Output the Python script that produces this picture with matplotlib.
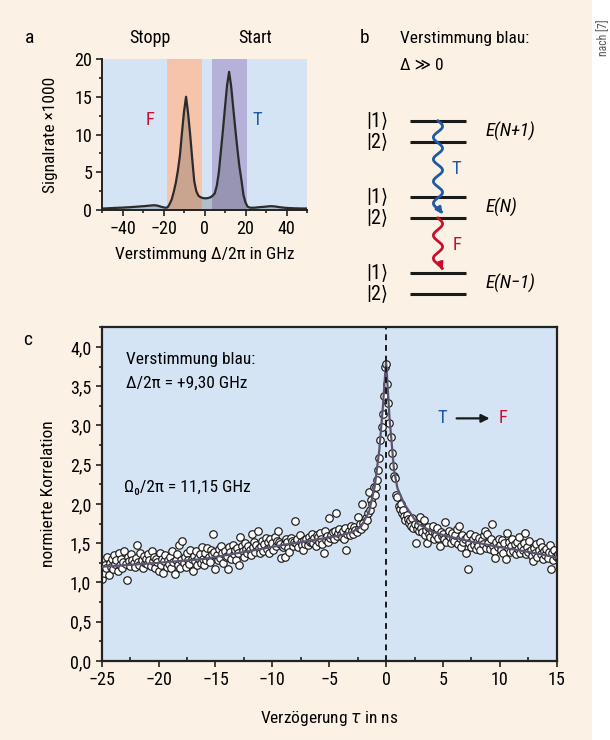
import numpy as np
import matplotlib
matplotlib.use("Agg")
import matplotlib.pyplot as plt
from matplotlib import font_manager
from matplotlib.patches import Rectangle
from matplotlib.ticker import MultipleLocator

# prefer a condensed face, like the print original
_names = {f.name for f in font_manager.fontManager.ttflist}
_base = next((n for n in ["Liberation Sans Narrow", "Roboto Condensed", "Open Sans Condensed",
                          "Noto Sans Display", "Roboto"] if n in _names), "DejaVu Sans")
plt.rcParams["font.family"] = [_base, "DejaVu Sans"]
plt.rcParams["font.stretch"] = "condensed"
plt.rcParams["axes.unicode_minus"] = True

PAGE = "#fbf1e5"
PANEL_BLUE = "#d4e4f5"
BAND_F = "#f6c4aa"
BAND_T = "#b5b1d9"
BLUE = "#1f5aa6"
RED = "#c8102e"
FIT = "#5b5570"

# --- panel a: signal rate vs detuning (1 GHz grid) ---
DETUNING_GHZ = np.arange(-50, 51)
SIGNAL = [
    0.20, 0.20, 0.22, 0.22, 0.25, 0.25, 0.28, 0.28, 0.30, 0.30,
    0.32, 0.33, 0.35, 0.36, 0.38, 0.40, 0.42, 0.44, 0.46, 0.48,
    0.50, 0.52, 0.55, 0.57, 0.60, 0.62, 0.62, 0.58, 0.50, 0.42,
    0.35, 0.30, 0.35, 0.80, 1.40, 2.40, 3.60, 5.20, 7.20, 10.20,
    13.00, 15.00, 12.80, 10.00, 6.80, 3.80, 2.50, 1.90, 1.70, 1.60,
    1.55, 1.55, 1.60, 1.70, 1.90, 2.20, 3.20, 5.00, 7.80, 10.60,
    13.60, 16.50, 18.30, 16.40, 13.60, 10.80, 8.20, 5.80, 4.00, 2.00,
    1.00, 0.45, 0.32, 0.30, 0.30, 0.32, 0.35, 0.38, 0.40, 0.42,
    0.45, 0.48, 0.50, 0.50, 0.48, 0.45, 0.40, 0.36, 0.33, 0.30,
    0.28, 0.26, 0.25, 0.24, 0.22, 0.22, 0.21, 0.20, 0.20, 0.20, 0.20,
]
F_BAND = (-18.5, -1.0)
T_BAND = (3.5, 20.5)
A_XTICKS = [-40, -20, 0, 20, 40]
A_XTICK_LABELS = ["\u221240", "\u221220", "0", "20", "40"]
A_YTICKS = [0, 5, 10, 15, 20]

# --- panel b: level scheme (manifold energies, arbitrary units) ---
MANIFOLDS = [2.0, 1.0, 0.0]
MANIFOLD_LABELS = ["E(N+1)", "E(N)", "E(N\u22121)"]
SPLIT = 0.28

# --- panel c: normalized correlation vs delay (0.1 ns grid from -25.3 ns) ---
TAU_START = -25.3
TAU_STEP = 0.1
CORR = [
    1.08, 1.30, 1.15,
    1.05, 1.28, 1.12, 1.22, 1.18, 1.32, 1.10, 1.25, 1.20, 1.30,
    1.17, 1.35, 1.24, 1.28, 1.15, 1.38, 1.22, 1.30, 1.19, 1.26,
    1.40, 1.23, 1.03, 1.33, 1.27, 1.21, 1.36, 1.29, 1.25, 1.20,
    1.31, 1.48, 1.26, 1.22, 1.38, 1.28, 1.19, 1.34, 1.25, 1.30,
    1.24, 1.36, 1.29, 1.21, 1.40, 1.27, 1.33, 1.18, 1.30, 1.26,
    1.15, 1.38, 1.22, 1.30, 1.12, 1.27, 1.35, 1.20, 1.29, 1.24,
    1.32, 1.18, 1.40, 1.26, 1.11, 1.29, 1.36, 1.22, 1.48, 1.19,
    1.28, 1.53, 1.25, 1.33, 1.20, 1.38, 1.29, 1.24, 1.42, 1.30,
    1.15, 1.34, 1.27, 1.40, 1.22, 1.31, 1.36, 1.25, 1.45, 1.30,
    1.22, 1.38, 1.29, 1.44, 1.33, 1.26, 1.41, 1.36, 1.62, 1.39,
    1.17, 1.35, 1.28, 1.43, 1.31, 1.47, 1.38, 1.25, 1.40, 1.33,
    1.34, 1.17, 1.45, 1.39, 1.30, 1.48, 1.36, 1.42, 1.29, 1.44,
    1.37, 1.22, 1.58, 1.46, 1.40, 1.33, 1.50, 1.43, 1.38, 1.47,
    1.42, 1.35, 1.62, 1.45, 1.51, 1.39, 1.48, 1.66, 1.44, 1.37,
    1.46, 1.53, 1.40, 1.49, 1.57, 1.43, 1.51, 1.38, 1.55, 1.47,
    1.50, 1.42, 1.58, 1.47, 1.53, 1.66, 1.52, 1.49, 1.31, 1.45,
    1.48, 1.33, 1.55, 1.51, 1.44, 1.39, 1.57, 1.53, 1.47, 1.52,
    1.78, 1.50, 1.56, 1.45, 1.60, 1.52, 1.48, 1.41, 1.54, 1.49,
    1.55, 1.48, 1.58, 1.52, 1.53, 1.62, 1.50, 1.57, 1.46, 1.60,
    1.58, 1.52, 1.63, 1.55, 1.49, 1.38, 1.66, 1.54, 1.59, 1.51,
    1.82, 1.57, 1.60, 1.64, 1.55, 1.66, 1.89, 1.59, 1.63, 1.68,
    1.62, 1.58, 1.66, 1.55, 1.70, 1.41, 1.62, 1.65, 1.60, 1.72,
    1.66, 1.62, 1.71, 1.67, 1.64, 1.84, 1.70, 1.75, 1.68, 2.00,
    1.76, 1.72, 1.82, 1.79, 1.88, 2.15, 1.92, 2.05, 2.00, 2.22,
    2.12, 2.22, 2.30, 2.43, 2.58, 2.82, 2.98, 3.15, 3.37, 3.74,
    3.78, 3.53, 3.28, 3.03, 2.85, 2.65, 2.48, 2.35, 2.33, 2.12,
    2.09, 1.97, 1.93, 2.00, 1.88, 1.92, 1.85, 1.80, 1.86, 1.81,
    1.76, 1.79, 1.72, 1.82, 1.70, 1.75, 1.50, 1.68, 1.73, 1.66,
    1.84, 1.70, 1.64, 1.80, 1.60, 1.67, 1.50, 1.71, 1.62, 1.58,
    1.66, 1.72, 1.55, 1.63, 1.60, 1.69, 1.57, 1.47, 1.64, 1.59,
    1.62, 1.55, 1.77, 1.52, 1.60, 1.66, 1.58, 1.50, 1.63, 1.56,
    1.53, 1.61, 1.68, 1.49, 1.72, 1.57, 1.45, 1.60, 1.52, 1.56,
    1.37, 1.58, 1.17, 1.50, 1.62, 1.45, 1.55, 1.48, 1.59, 1.43,
    1.52, 1.46, 1.57, 1.41, 1.54, 1.49, 1.60, 1.66, 1.44, 1.62,
    1.50, 1.43, 1.56, 1.75, 1.47, 1.40, 1.31, 1.52, 1.45, 1.55,
    1.48, 1.41, 1.54, 1.37, 1.50, 1.30, 1.63, 1.44, 1.52, 1.39,
    1.46, 1.55, 1.40, 1.49, 1.36, 1.52, 1.43, 1.58, 1.38, 1.47,
    1.41, 1.50, 1.63, 1.36, 1.45, 1.39, 1.53, 1.42, 1.34, 1.27,
    1.44, 1.38, 1.49, 1.33, 1.42, 1.52, 1.36, 1.45, 1.30, 1.40,
    1.35, 1.43, 1.31, 1.39, 1.48, 1.17, 1.37, 1.29, 1.41, 1.34,
    1.33, 1.36, 1.30,
]
# fitted curve
FIT_TAU = [-25, -20, -16, -12, -9, -6, -4, -3, -2.2, -1.5, -1.0, -0.6, -0.3, 0.0,
           0.3, 0.7, 1.0, 1.6, 2.75, 4, 5.1, 7.5, 10, 12.5, 15]
FIT_CORR = [1.20, 1.25, 1.30, 1.40, 1.48, 1.55, 1.60, 1.64, 1.71, 1.90, 2.22, 2.68, 3.20, 3.82,
            3.10, 2.43, 2.20, 2.00, 1.75, 1.65, 1.60, 1.52, 1.45, 1.39, 1.32]
C_XTICKS = [-25, -20, -15, -10, -5, 0, 5, 10, 15]
C_XTICK_LABELS = ["\u221225", "\u221220", "\u221215", "\u221210", "\u22125", "0", "5", "10", "15"]
C_YTICKS = [0.0, 0.5, 1.0, 1.5, 2.0, 2.5, 3.0, 3.5, 4.0]
C_YTICK_LABELS = ["0,0", "0,5", "1,0", "1,5", "2,0", "2,5", "3,0", "3,5", "4,0"]

W, H = 610, 740
FS = 12.5        # body text size
FS_TICK = 13
FS_LETTER = 14


def px(x, y):
    """Pixel position (from top-left) -> figure fraction."""
    return x / W, 1 - y / H


fig = plt.figure(figsize=(6.1, 7.4), dpi=100, facecolor=PAGE)
fig.patches.append(Rectangle((592 / W, 0), 1 - 592 / W, 1, transform=fig.transFigure,
                             facecolor="white", edgecolor="none", zorder=0))
fig.text(*px(604, 38), "nach [7]", rotation=90, ha="center", va="center",
         fontsize=8.5, color="#555555")

# ---------------- panel a ----------------
ax_a = fig.add_axes([102 / W, 1 - 210 / H, 205 / W, 151 / H])
ax_a.set_facecolor(PANEL_BLUE)
ax_a.axvspan(*F_BAND, color=BAND_F, lw=0, zorder=0.5)
ax_a.axvspan(*T_BAND, color=BAND_T, lw=0, zorder=0.5)
ax_a.fill_between(DETUNING_GHZ, 0, SIGNAL, color="#333333", alpha=0.22, lw=0, zorder=1)
ax_a.plot(DETUNING_GHZ, SIGNAL, color="#2b2b2b", lw=1.6, zorder=2)
ax_a.set_xlim(-50, 50)
ax_a.set_ylim(0, 20)
ax_a.set_xticks(A_XTICKS)
ax_a.set_xticklabels(A_XTICK_LABELS)
ax_a.set_yticks(A_YTICKS)
ax_a.xaxis.set_minor_locator(MultipleLocator(10))
ax_a.yaxis.set_minor_locator(MultipleLocator(2.5))
ax_a.tick_params(which="both", direction="out", labelsize=FS_TICK, width=1.2, color="#222222")
ax_a.tick_params(which="major", length=4, pad=3)
ax_a.tick_params(which="minor", length=2.5)
for side in ("top", "right"):
    ax_a.spines[side].set_visible(False)
for side in ("left", "bottom"):
    ax_a.spines[side].set_linewidth(1.4)
    ax_a.spines[side].set_color("#222222")
ax_a.set_ylabel("Signalrate \u00d71000", fontsize=FS, labelpad=12)
ax_a.set_xlabel("Verstimmung \u0394/2\u03c0 in GHz", fontsize=FS, labelpad=7)
ax_a.text(-26.5, 11.9, "F", color=RED, fontsize=FS + 1, ha="center", va="center")
ax_a.text(26.0, 11.9, "T", color=BLUE, fontsize=FS + 1, ha="center", va="center")
fig.text(*px(30, 38), "a", fontsize=FS_LETTER, ha="center", va="center")
fig.text(*px(150, 38), "Stopp", fontsize=FS + 0.5, ha="center", va="center")
fig.text(*px(255, 38), "Start", fontsize=FS + 0.5, ha="center", va="center")

# ---------------- panel b ----------------
fig.text(*px(365, 38), "b", fontsize=FS_LETTER, ha="center", va="center")
fig.text(*px(400, 38), "Verstimmung blau:", fontsize=FS, ha="left", va="center")
fig.text(*px(400, 65), "\u0394 \u226b 0", fontsize=FS, ha="left", va="center")

ax_b = fig.add_axes([360 / W, 1 - 310 / H, 230 / W, 210 / H])
ax_b.set_xlim(0, 1)
ax_b.set_ylim(-0.349, 2.414)
ax_b.axis("off")
for e, lab in zip(MANIFOLDS, MANIFOLD_LABELS):
    for dy, ket in ((SPLIT / 2, "|1\u27e9"), (-SPLIT / 2, "|2\u27e9")):
        ax_b.plot([0.217, 0.461], [e + dy, e + dy], color="#1a1a1a", lw=2.2,
                  solid_capstyle="butt")
        ax_b.text(0.075, e + dy, ket, fontsize=FS + 2, ha="center", va="center")
    ax_b.text(0.545, e, lab, fontsize=FS + 1, style="italic", ha="left", va="center")


def wavy(ax, x0, y_top, y_bot, periods, color):
    y = np.linspace(y_top, y_bot, 300)
    x = x0 + 0.02 * np.sin(2 * np.pi * periods * (y_top - y) / (y_top - y_bot))
    ax.plot(x[:-8], y[:-8], color=color, lw=2.0)
    ax.annotate("", xy=(x[-1], y[-1]), xytext=(x[-14], y[-14]),
                arrowprops=dict(arrowstyle="-|>", color=color, lw=2.0,
                                mutation_scale=9, shrinkA=0, shrinkB=0))


top_n1 = MANIFOLDS[0] + SPLIT / 2
lo_n = MANIFOLDS[1] - SPLIT / 2
hi_nm1 = MANIFOLDS[2] + SPLIT / 2
wavy(ax_b, 0.339, top_n1, lo_n + 0.05, 4.25, BLUE)
wavy(ax_b, 0.339, lo_n, hi_nm1 + 0.04, 2.25, RED)
ax_b.text(0.42, 1.5, "T", color=BLUE, fontsize=FS + 1, ha="center", va="center")
ax_b.text(0.42, 0.5, "F", color=RED, fontsize=FS + 1, ha="center", va="center")

# ---------------- panel c ----------------
tau = TAU_START + TAU_STEP * np.arange(len(CORR))
ax_c = fig.add_axes([101.7 / W, 1 - 661 / H, 455 / W, 333.7 / H])
ax_c.set_facecolor(PANEL_BLUE)
ax_c.plot(tau, CORR, "o", ms=5.4, mfc="white", mec="#1a1a1a", mew=0.85, zorder=2)
ax_c.plot(FIT_TAU, FIT_CORR, color=FIT, lw=1.6, zorder=3)
ax_c.axvline(0, color="#1a1a1a", lw=1.4, ls=(0, (3, 2.5)), zorder=3)
ax_c.set_xlim(-25, 15)
ax_c.set_ylim(0, 4.25)
ax_c.set_xticks(C_XTICKS)
ax_c.set_xticklabels(C_XTICK_LABELS)
ax_c.set_yticks(C_YTICKS)
ax_c.set_yticklabels(C_YTICK_LABELS)
ax_c.xaxis.set_minor_locator(MultipleLocator(2.5))
ax_c.yaxis.set_minor_locator(MultipleLocator(0.25))
ax_c.tick_params(which="both", labelsize=FS_TICK, width=1.2, color="#222222")
ax_c.tick_params(which="major", direction="out", length=4.5, pad=3)
ax_c.tick_params(axis="x", which="minor", direction="in", length=3)
ax_c.tick_params(axis="y", which="minor", direction="out", length=2.5)
for sp in ax_c.spines.values():
    sp.set_linewidth(1.6)
    sp.set_color("#222222")
ax_c.set_ylabel("normierte Korrelation", fontsize=FS, labelpad=10)
ax_c.set_xlabel("Verz\u00f6gerung $\\tau$ in ns", fontsize=FS, labelpad=14)
ax_c.text(-22.9, 3.84, "Verstimmung blau:", fontsize=FS, ha="left", va="center")
ax_c.text(-22.9, 3.54, "\u0394/2\u03c0 = +9,30 GHz", fontsize=FS, ha="left", va="center")
ax_c.text(-23.0, 2.21, "\u03a9\u2080/2\u03c0 = 11,15 GHz", fontsize=FS, ha="left", va="center")
ax_c.text(4.9, 3.09, "T", color=BLUE, fontsize=FS + 1, ha="center", va="center")
ax_c.annotate("", xy=(9.1, 3.09), xytext=(6.2, 3.09),
              arrowprops=dict(arrowstyle="-|>", color="#1a1a1a", lw=1.6,
                              mutation_scale=12, shrinkA=0, shrinkB=0))
ax_c.text(10.3, 3.09, "F", color=RED, fontsize=FS + 1, ha="center", va="center")
fig.text(*px(28, 340), "c", fontsize=FS_LETTER, ha="center", va="center")

fig.savefig("out.png", dpi=100, facecolor=PAGE)
